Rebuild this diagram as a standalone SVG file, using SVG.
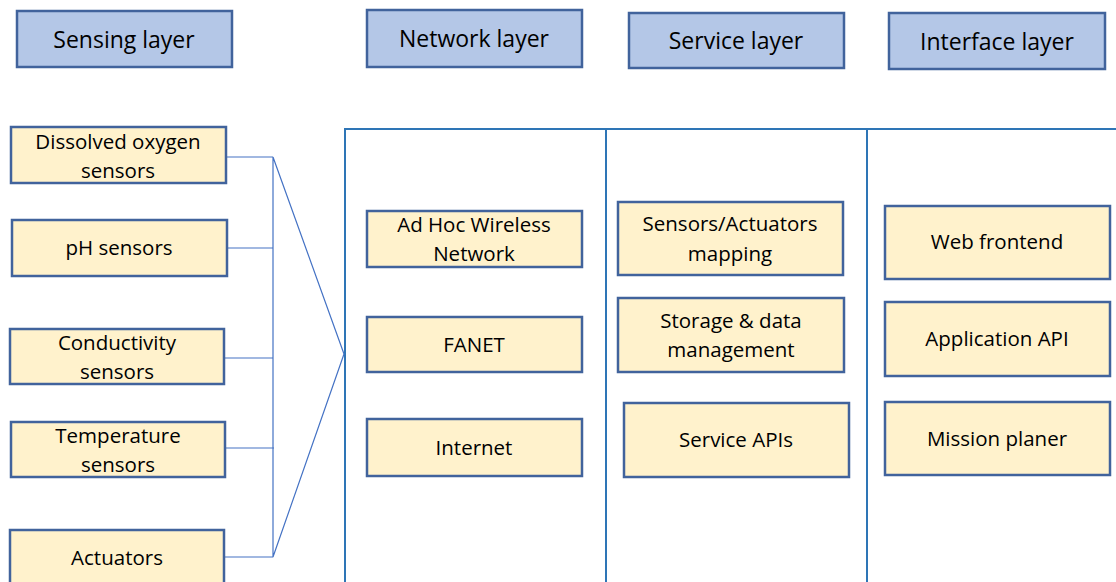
<svg xmlns="http://www.w3.org/2000/svg" width="1116" height="582" viewBox="0 0 1116 582">
<style>
.hdr rect{fill:#b4c7e7;stroke:#41639c;stroke-width:2.5}
.box rect{fill:#fff2cc;stroke:#41639c;stroke-width:2.5}
text{font-family:"Open Sans","Liberation Sans",sans-serif;fill:#000;text-anchor:middle}
.hdr text{font-size:23px}
.box text{font-size:20.5px}
.frame{stroke:#2e75b6;stroke-width:2;fill:none}
.conn{stroke:#4472c4;stroke-width:1.2;fill:none}
</style>
<rect width="1116" height="582" fill="#fff"/>
<g id="frame">
<path class="frame" d="M345,582 V129 H1116 M606,129 V582 M867,129 V582"/>
</g>
<g id="hdr-sensing" class="hdr"><rect x="17" y="11" width="215" height="56"/><text x="124" y="48">Sensing layer</text></g>
<g id="hdr-network" class="hdr"><rect x="367" y="10" width="215" height="57"/><text x="474" y="47">Network layer</text></g>
<g id="hdr-service" class="hdr"><rect x="629" y="13" width="215" height="55"/><text x="736" y="49">Service layer</text></g>
<g id="hdr-interface" class="hdr"><rect x="889" y="13" width="216" height="56"/><text x="997" y="50">Interface layer</text></g>

<g id="connectors">
<path class="conn" d="M226,157 H273 M227,248 H273 M224,358 H273 M225,448 H274 M224,557 H273 M273,157 V557 M273,157 L344,354 M273,557 L344,354"/>
</g>

<g id="n-oxygen" class="box"><rect x="11" y="127" width="215" height="56"/><text x="118" y="149">Dissolved oxygen</text><text x="118" y="178">sensors</text></g>
<g id="n-ph" class="box"><rect x="12" y="220" width="215" height="56"/><text x="119" y="255">pH sensors</text></g>
<g id="n-conductivity" class="box"><rect x="10" y="329" width="214" height="55"/><text x="117" y="350">Conductivity</text><text x="117" y="379">sensors</text></g>
<g id="n-temperature" class="box"><rect x="11" y="422" width="214" height="55"/><text x="118" y="443">Temperature</text><text x="118" y="472">sensors</text></g>
<g id="n-actuators" class="box"><rect x="10" y="530" width="214" height="60"/><text x="117" y="565">Actuators</text></g>

<g id="n-adhoc" class="box"><rect x="367" y="211" width="215" height="56"/><text x="474" y="232">Ad Hoc Wireless</text><text x="474" y="261">Network</text></g>
<g id="n-fanet" class="box"><rect x="367" y="317" width="215" height="55"/><text x="474" y="352">FANET</text></g>
<g id="n-internet" class="box"><rect x="367" y="419" width="215" height="57"/><text x="474" y="455">Internet</text></g>

<g id="n-mapping" class="box"><rect x="618" y="202" width="225" height="73"/><text x="730" y="231">Sensors/Actuators</text><text x="730" y="261">mapping</text></g>
<g id="n-storage" class="box"><rect x="618" y="298" width="226" height="74"/><text x="731" y="328">Storage &amp; data</text><text x="731" y="357">management</text></g>
<g id="n-serviceapis" class="box"><rect x="624" y="403" width="225" height="74"/><text x="736" y="447">Service APIs</text></g>

<g id="n-web" class="box"><rect x="885" y="206" width="225" height="73"/><text x="997" y="249">Web frontend</text></g>
<g id="n-appapi" class="box"><rect x="885" y="302" width="225" height="74"/><text x="997" y="346">Application API</text></g>
<g id="n-mission" class="box"><rect x="885" y="402" width="225" height="73"/><text x="997" y="446">Mission planer</text></g>
</svg>
